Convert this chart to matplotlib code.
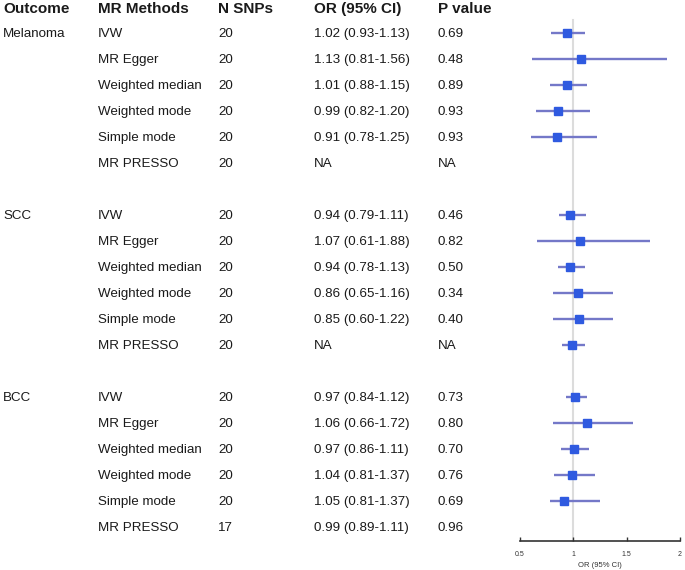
import matplotlib
matplotlib.use("Agg")
import matplotlib.pyplot as plt
from matplotlib import transforms

plt.rcParams['font.family'] = ['Liberation Sans', 'DejaVu Sans']

outcomes = ["Melanoma", "SCC", "BCC"]
methods = ["IVW", "MR Egger", "Weighted median", "Weighted mode", "Simple mode", "MR PRESSO"]
n_snps = [[20, 20, 20, 20, 20, 20],
          [20, 20, 20, 20, 20, 20],
          [20, 20, 20, 20, 20, 17]]
or_text = [["1.02 (0.93-1.13)", "1.13 (0.81-1.56)", "1.01 (0.88-1.15)", "0.99 (0.82-1.20)", "0.91 (0.78-1.25)", "NA"],
           ["0.94 (0.79-1.11)", "1.07 (0.61-1.88)", "0.94 (0.78-1.13)", "0.86 (0.65-1.16)", "0.85 (0.60-1.22)", "NA"],
           ["0.97 (0.84-1.12)", "1.06 (0.66-1.72)", "0.97 (0.86-1.11)", "1.04 (0.81-1.37)", "1.05 (0.81-1.37)", "0.99 (0.89-1.11)"]]
p_text = [["0.69", "0.48", "0.89", "0.93", "0.93", "NA"],
          ["0.46", "0.82", "0.50", "0.34", "0.40", "NA"],
          ["0.73", "0.80", "0.70", "0.76", "0.69", "0.96"]]

# Estimates as drawn in the forest panel (None = no mark)
plot_est = [[0.94, 1.07, 0.94, 0.86, 0.85, None],
            [0.97, 1.06, 0.97, 1.04, 1.05, 0.99],
            [1.02, 1.13, 1.01, 0.99, 0.91, None]]
plot_lo = [[0.79, 0.61, 0.78, 0.65, 0.60, None],
           [0.87, 0.66, 0.86, 0.81, 0.81, 0.89],
           [0.93, 0.81, 0.88, 0.82, 0.78, None]]
plot_hi = [[1.11, 1.88, 1.13, 1.16, 1.22, None],
           [1.12, 1.72, 1.11, 1.37, 1.37, 1.11],
           [1.13, 1.56, 1.15, 1.20, 1.25, None]]

headers = ["Outcome", "MR Methods", "N SNPs", "OR (95% CI)", "P value"]
xticks = [0.5, 1, 1.5, 2]
xtick_labels = ["0.5", "1", "1.5", "2"]

W, H = 685, 570
fig = plt.figure(figsize=(W / 100, H / 100), dpi=100)

# forest axes: x from px 520 to 680, bottom at px 541 from top
ax_left, ax_right = 520 / W, 680 / W
ax_bottom = 1 - 541 / H
ax = fig.add_axes([ax_left, ax_bottom, ax_right - ax_left, 1 - ax_bottom])
row0_px, row_step = 32.5, 26.0
ytop = (0 - row0_px) / row_step
ybot = (541 - row0_px) / row_step
ax.set_ylim(ybot, ytop)
ax.set_xlim(0.5, 2)

for s in ["top", "right", "left"]:
    ax.spines[s].set_visible(False)
ax.spines["bottom"].set_color("#333333")
ax.spines["bottom"].set_linewidth(1.2)
ax.set_yticks([])
ax.set_xticks(xticks)
ax.set_xticklabels(xtick_labels, fontsize=5, color="#333333")
ax.tick_params(axis="x", direction="in", length=3, width=1.0, color="#333333", pad=7)
ax.set_xlabel("OR (95% CI)", fontsize=5.5, color="#333333", labelpad=3)

# reference line
ax.plot([1, 1], [-0.5, ybot], color="#dcdcdc", lw=1.5, zorder=1, clip_on=False)

col_x = [3, 97.5, 218, 313.5, 437.5]
tr = transforms.blended_transform_factory(fig.transFigure, ax.transData)
head_y = (9.0 - row0_px) / row_step
txt_color = "#1a1a1a"
for cx, h in zip(col_x, headers):
    ax.text(cx / W, head_y, h, transform=tr, fontsize=11, fontweight="bold",
            ha="left", va="center", color=txt_color)

row = 0
for g, outc in enumerate(outcomes):
    for m, meth in enumerate(methods):
        y = row
        ty = y + 0.05
        if m == 0:
            ax.text(col_x[0] / W, ty, outc, transform=tr, fontsize=9.6, ha="left", va="center", color=txt_color)
        ax.text(col_x[1] / W, ty, meth, transform=tr, fontsize=9.6, ha="left", va="center", color=txt_color)
        ax.text(col_x[2] / W, ty, str(n_snps[g][m]), transform=tr, fontsize=9.6, ha="left", va="center", color=txt_color)
        ax.text(col_x[3] / W, ty, or_text[g][m], transform=tr, fontsize=9.6, ha="left", va="center", color=txt_color)
        ax.text(col_x[4] / W, ty, p_text[g][m], transform=tr, fontsize=9.6, ha="left", va="center", color=txt_color)
        if plot_est[g][m] is not None:
            ax.plot([plot_lo[g][m], plot_hi[g][m]], [y, y], color="#7478c8", lw=1.7,
                    solid_capstyle="butt", zorder=2, clip_on=False)
            ax.plot([plot_est[g][m]], [y], marker="s", markersize=6.2, color="#2f5ae0",
                    markeredgecolor="#2f5ae0", zorder=3, clip_on=False)
        row += 1
    row += 1

fig.savefig("out.png", dpi=100)
